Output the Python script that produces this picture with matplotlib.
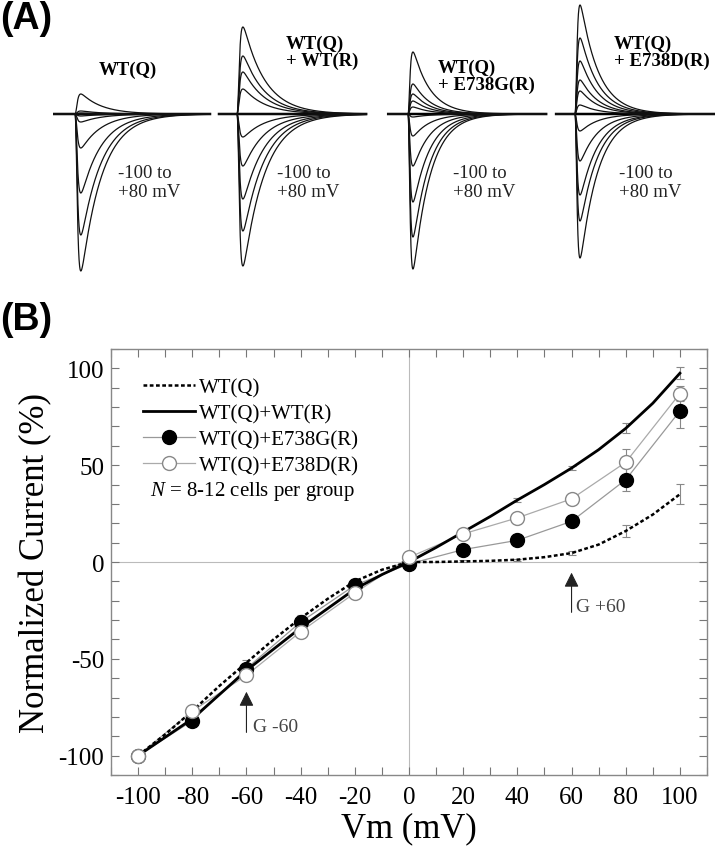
import numpy as np
import matplotlib.pyplot as plt
from matplotlib.lines import Line2D
from matplotlib.ticker import MultipleLocator

plt.rcParams['font.family'] = ['Liberation Serif', 'DejaVu Serif']
plt.rcParams['mathtext.fontset'] = 'custom'
plt.rcParams['mathtext.it'] = 'Liberation Serif:italic'
plt.rcParams['mathtext.rm'] = 'Liberation Serif'
plt.rcParams['axes.unicode_minus'] = False

# ---- panel A: peak amplitudes of the current traces (arbitrary units) ----
group_labels = ['WT(Q)', 'WT(Q)\n+ WT(R)', 'WT(Q)\n+ E738G(R)', 'WT(Q)\n+ E738D(R)']
wtq_amp = [-157, -121, -79, -34, -8, -2, 0, 1, 3, 20]
wtr_amp = [-152, -117, -85, -52, -23, 0, 25, 42, 58, 87]
e738g_amp = [-155, -123, -88, -52, -22, -3, 7, 13, 20, 30, 62]
e738d_amp = [-144, -107, -81, -47, -17, 9, 23, 34, 53, 76, 109]
tau_act = [0.35, 0.35, 0.3, 0.3]      # ms
tau_inact = [4.6, 4.8, 3.8, 4.0]      # ms
t_span = [(-5.0, 30.0), (-4.0, 28.7), (-4.4, 30.7), (-4.2, 30.9)]
step_text = '-100 to\n+80 mV'

# ---- panel B: I-V relation ----
vm = [-100, -80, -60, -40, -20, 0, 20, 40, 60, 80, 100]
vm_fine = [-100, -90, -80, -70, -60, -50, -40, -30, -20, -10, 0,
           10, 20, 30, 40, 50, 60, 70, 80, 90, 100]
wtq_curve = [-100, -89, -77, -64, -52, -40, -29, -19, -10, -4, 0,
             0, 0.3, 0.6, 1.2, 2.5, 4.6, 9, 16, 24.5, 35]
wtr_curve = [-100, -90.5, -81, -68.5, -56, -45, -34, -24, -14, -6.5, 0,
             7.5, 15.5, 23.5, 32, 40, 48.5, 58, 69, 82, 97.5]
wtq_err = [0, 1, 1.5, 1.5, 1, 0, 0.5, 0.5, 1, 3, 5.3]
wtr_err = [0, 1.5, 1.5, 1.5, 1, 0, 0.8, 1, 1.2, 2.6, 3]
wtq_at_vm = [-100, -77, -52, -29, -10, 0, 0.3, 1.2, 4.6, 16, 35]
wtr_at_vm = [-100, -81, -56, -34, -14, 0, 15.5, 32, 48.5, 69, 97.5]
e738g = [-100, -82, -55, -31, -12, -1, 6.4, 11.2, 21, 42.5, 78]
e738g_err = [0, 1.5, 1.5, 1.5, 1, 0.5, 1, 1, 1.5, 6, 9]
e738d = [-100, -77, -58.5, -36, -16, 2.4, 14.5, 22.8, 32.6, 51.5, 87]
e738d_err = [0, 1.5, 1.5, 1.5, 1, 0.5, 1, 1, 2, 7, 4]

W, H = 716, 853
fig = plt.figure(figsize=(W / 100, H / 100), dpi=100)


def px_axes(left, top, width, height):
    return fig.add_axes([left / W, 1 - (top + height) / H, width / W, height / H])


def trace(t, amp, ta, ti):
    """m^3 h shaped sodium-like current, peak scaled to amp"""
    tt = np.clip(t, 0, None)
    y = (1 - np.exp(-tt / ta)) ** 3 * np.exp(-tt / ti)
    return amp * y / y.max()


# ---------------- (A) ----------------
px_per_ms = 4.5
onsets = [75, 237, 408, 575]
amps = [wtq_amp, wtr_amp, e738g_amp, e738d_amp]
for i in range(4):
    ax = px_axes(onsets[i] - 5 * px_per_ms, 0, 36 * px_per_ms, 285)
    ax.set_xlim(-5, 31)
    ax.set_ylim(-170, 115)
    ax.axis('off')
    t = np.linspace(t_span[i][0], t_span[i][1], 1500)
    ax.plot(t, np.zeros_like(t), color='black', lw=1.8)
    for a in amps[i]:
        ax.plot(t, trace(t, a, tau_act[i], tau_inact[i]), color='#111111', lw=0.9)

# labels in panel A
fig.text(128 / W, 1 - 70 / H, group_labels[0], ha='center', va='center',
         fontsize=13.5, fontweight='bold')
for x, y, lab in [(286, 53, group_labels[1]), (438, 77, group_labels[2]),
                  (614, 53, group_labels[3])]:
    fig.text(x / W, 1 - y / H, lab, ha='left', va='center', fontsize=13.5,
             fontweight='bold', linespacing=1.0)
for x in [118, 277, 453, 619]:
    fig.text(x / W, 1 - 183 / H, step_text, ha='left', va='center', fontsize=13.5,
             color='#222222', linespacing=1.15)

fig.text(0 / W, 1 - 19 / H, '(A)', ha='left', va='center', fontsize=27,
         fontweight='bold', family='Liberation Sans')
fig.text(0 / W, 1 - 320 / H, '(B)', ha='left', va='center', fontsize=27,
         fontweight='bold', family='Liberation Sans')

# ---------------- (B) ----------------
ax = px_axes(111, 350, 596, 426)
ax.set_xlim(-110, 110)
ax.set_ylim(-110, 110)
ax.axhline(0, color='#bbbbbb', lw=0.8, zorder=0)
ax.axvline(0, color='#bbbbbb', lw=0.8, zorder=0)

dot_style = (0, (1.5, 1.0))
ekw = dict(fmt='none', ecolor='#888888', elinewidth=0.8, capsize=3, capthick=0.8)
ax.errorbar(vm, wtq_at_vm, yerr=wtq_err, **ekw)
ax.errorbar(vm, wtr_at_vm, yerr=wtr_err, **ekw)
ax.errorbar(vm, e738g, yerr=e738g_err, **ekw)
ax.errorbar(vm, e738d, yerr=e738d_err, **ekw)
ax.plot(vm_fine, wtq_curve, color='black', lw=1.8, ls=dot_style, zorder=3)
ax.plot(vm_fine, wtr_curve, color='black', lw=2.0, zorder=3)
ax.plot(vm, e738g, color='#999999', lw=0.9, zorder=2)
ax.plot(vm, e738d, color='#aaaaaa', lw=0.9, zorder=2)
ax.plot(vm, e738g, 'o', ms=10, mfc='black', mec='black', zorder=4)
ax.plot(vm, e738d, 'o', ms=10, mfc='white', mec='#888888', mew=1.0, zorder=5)

ax.annotate('', xy=(-60, -67), xytext=(-60, -88),
            arrowprops=dict(arrowstyle='-|>', color='#222222', lw=0.8,
                            mutation_scale=22, shrinkA=0, shrinkB=0))
ax.text(-57.5, -85, 'G -60', fontsize=14, color='#444444', va='center')
ax.annotate('', xy=(60, -5.5), xytext=(60, -26),
            arrowprops=dict(arrowstyle='-|>', color='#222222', lw=0.8,
                            mutation_scale=22, shrinkA=0, shrinkB=0))
ax.text(61.5, -23, 'G +60', fontsize=14, color='#444444', va='center')

ax.xaxis.set_major_locator(MultipleLocator(20))
ax.xaxis.set_minor_locator(MultipleLocator(10))
ax.yaxis.set_major_locator(MultipleLocator(50))
ax.yaxis.set_minor_locator(MultipleLocator(10))
ax.tick_params(which='both', direction='in', top=True, right=True,
               length=6, width=0.8, color='#777777', labelsize=18)
ax.tick_params(axis='x', pad=8)
ax.tick_params(axis='y', pad=5)
for s in ax.spines.values():
    s.set_color('#888888')
    s.set_linewidth(1.0)
ax.set_xlabel('Vm (mV)', fontsize=25, labelpad=2)
ax.set_ylabel('Normalized Current (%)', fontsize=25, labelpad=4)

handles = [
    Line2D([], [], color='black', lw=1.8, ls=dot_style),
    Line2D([], [], color='black', lw=2.0),
    Line2D([], [], color='#999999', lw=0.9, marker='o', ms=10, mfc='black', mec='black'),
    Line2D([], [], color='#aaaaaa', lw=0.9, marker='o', ms=10, mfc='white', mec='#888888'),
]
labels = ['WT(Q)', 'WT(Q)+WT(R)', 'WT(Q)+E738G(R)', 'WT(Q)+E738D(R)']
ax.legend(handles, labels, loc='upper left', bbox_to_anchor=(0.054, 0.932),
          frameon=False, fontsize=15, handlelength=2.5, handletextpad=0.2,
          labelspacing=0.3, borderpad=0, borderaxespad=0)
ax.text(0.065, 0.668, '$N$ = 8-12 cells per group', transform=ax.transAxes,
        fontsize=15, va='center')

plt.savefig('out.png', dpi=100)
